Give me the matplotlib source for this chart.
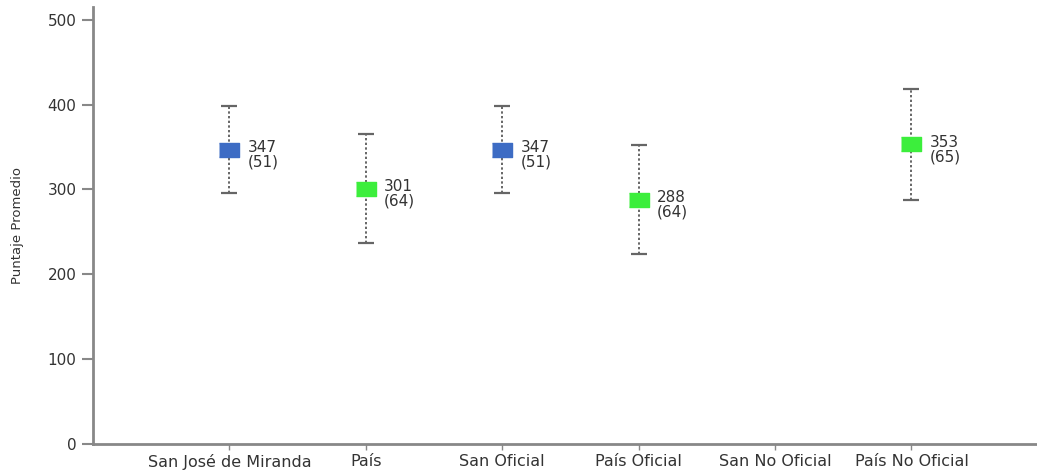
import matplotlib
matplotlib.use('Agg')
import matplotlib.pyplot as plt

# Data
categories = ['San José de Miranda', 'País', 'San Oficial', 'País Oficial',
              'San No Oficial', 'País No Oficial']
means = [347, 301, 347, 288, None, 353]
sds = [51, 64, 51, 64, None, 65]
colors = ['#3d6cc4', '#3cee3c', '#3d6cc4', '#3cee3c', None, '#3cee3c']

fig = plt.figure(figsize=(10.37, 4.73), dpi=100)
ax = fig.add_axes([0.0897, 0.0613, 0.9103, 0.924])

rect = [(-1, -0.72), (1, -0.72), (1, 0.72), (-1, 0.72)]
for i, (m, s, c) in enumerate(zip(means, sds, colors)):
    if m is None:
        continue
    eb = ax.errorbar(i, m, yerr=s, fmt='none', ecolor='#666666', elinewidth=1.4,
                     capsize=6, capthick=1.6, zorder=2)
    eb[2][0].set_linestyle((0, (1.2, 1.2)))
    for cap in eb[1]:
        cap.set_color('#666666')
    ax.plot(i, m, marker=rect, markersize=14.4, color=c, linestyle='none', zorder=3)
    ax.annotate(f'{m}\n({s})', xy=(i, m), xytext=(13, -4), textcoords='offset points',
                va='center', ha='left', fontsize=11, color='#333333', linespacing=0.95)

ax.set_xlim(-1, 5.92)
ax.set_ylim(0, 515)
ax.set_yticks([0, 100, 200, 300, 400, 500])
ax.set_xticks(range(len(categories)))
ax.set_xticklabels(categories)

for sp in ['top', 'right']:
    ax.spines[sp].set_visible(False)
for sp in ['left', 'bottom']:
    ax.spines[sp].set_color('#888888')
    ax.spines[sp].set_linewidth(2)

ax.tick_params(axis='y', length=8, width=1.5, color='#888888', labelcolor='#333333',
               labelsize=11, pad=4)
ax.tick_params(axis='x', length=4, width=1, color='#888888', labelcolor='#333333',
               labelsize=11.5, pad=3)

ax.set_ylabel('Puntaje Promedio', fontsize=9.5, color='#333333',
              family=['Liberation Sans Narrow', 'DejaVu Sans'])
ax.yaxis.set_label_coords(-0.073, 0.5)

fig.savefig('out.png', dpi=100)
